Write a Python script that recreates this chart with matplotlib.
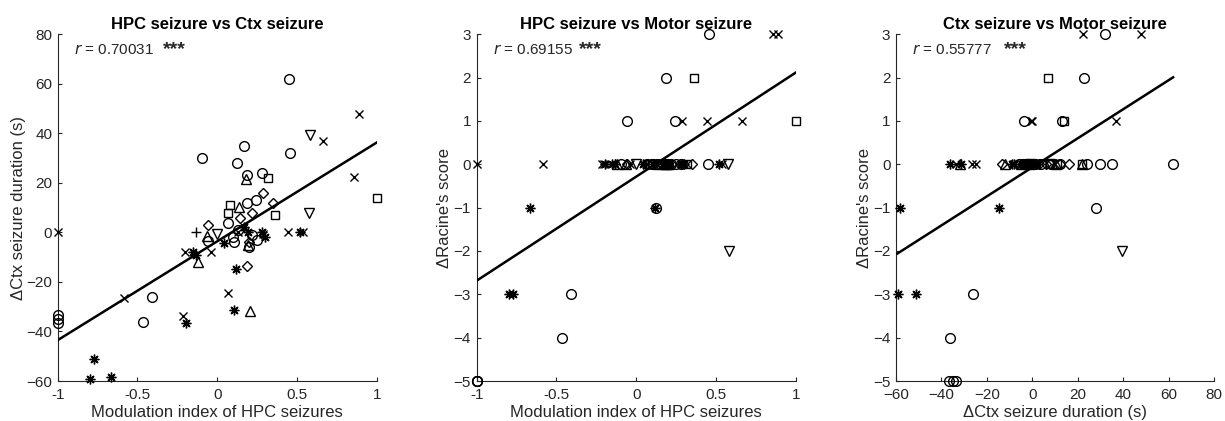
import numpy as np
import matplotlib.pyplot as plt

plt.rcParams['font.family'] = ['Liberation Sans', 'DejaVu Sans']

# per animal marker: modulation index (HPC), delta Ctx duration (s), delta Racine score
circ_mi = [0.452, 0.459, -0.095, 0.124, 0.17, 0.19, 0.283, 0.187, 0.243, -0.406, -0.467,
           -1.0, -1.0, -1.0, -0.06, 0.066, 0.108, 0.25, 0.2, 0.13, 0.10, 0.22]
circ_ctx = [62, 32, 30, 28, 35, 23, 24, 12, 13, -26, -36,
            -33.5, -35, -36.5, -3.5, 4, -4, -3, -6, 1, -2, -1]
circ_rac = [0, 3, 0, -1, 0, 2, 0, 0, 1, -3, -4,
            -5, -5, -5, 1, 0, 0, 0, 0, 0, 0, 0]

x_mi = [0.889, 0.856, 0.666, 0.446, 0.54, 0.07, -0.212, -0.586, -1.0, -0.04, -0.2, 0.285, 0.13]
x_ctx = [48, 22.5, 37, 0, 0, -24.6, -33.7, -26.5, 0, -8, -8, -0.5, 0]
x_rac = [3, 3, 1, 1, 0, 0, 0, 0, 0, 0, 0, 1, 0]

ast_mi = [-0.774, -0.8, -0.666, -0.195, 0.105, 0.12, 0.283, 0.519, 0.044, -0.13, 0.3, 0.17, 0.195, -0.15]
ast_ctx = [-51, -59.3, -58.4, -36.4, -31.3, -14.6, 0, 0, -4.3, -9, -2, 2, 0, -8]
ast_rac = [-3, -3, -1, 0, 0, -1, 0, 0, 0, 0, 0, 0, 0, 0]

sq_mi = [1.0, 0.317, 0.362, 0.08, 0.07]
sq_ctx = [14, 22, 7, 11, 8]
sq_rac = [1, 0, 2, 0, 0]

dia_mi = [0.187, 0.29, 0.352, 0.22, -0.057, 0.143, 0.2]
dia_ctx = [-13.5, 16, 12, 7.7, 3, 6, -4]
dia_rac = [0, 0, 0, 0, 0, 0, 0]

tri_mi = [0.179, 0.204, -0.118, 0.139, -0.066, 0.195]
tri_ctx = [21.7, -31.8, -12, 10.4, -1.5, -5]
tri_rac = [0, 0, 0, 0, 0, 0]

trd_mi = [0.582, 0.578, 0.0]
trd_ctx = [39.4, 7.7, -0.8]
trd_rac = [-2, 0, 0]

plus_mi = [-0.131]
plus_ctx = [0]
plus_rac = [0]

# regression lines (slope, intercept)
fit_mi_ctx = (39.9, -3.6)
fit_mi_rac = (2.4, -0.285)
fit_ctx_rac = (0.0335, -0.07)

r_text = ['0.70031', '0.69155', '0.55777']
titles = ['HPC seizure vs Ctx seizure', 'HPC seizure vs Motor seizure', 'Ctx seizure vs Motor seizure']

groups = [
    ('o', 7, circ_mi, circ_ctx, circ_rac),
    ('x', 5.5, x_mi, x_ctx, x_rac),
    ((8, 2, 0), 7, ast_mi, ast_ctx, ast_rac),
    ('s', 6, sq_mi, sq_ctx, sq_rac),
    ('D', 5.5, dia_mi, dia_ctx, dia_rac),
    ('^', 7, tri_mi, tri_ctx, tri_rac),
    ('v', 7, trd_mi, trd_ctx, trd_rac),
    ('+', 7, plus_mi, plus_ctx, plus_rac),
]

gray = '#262626'
fig = plt.figure(figsize=(12.25, 4.21), dpi=100)
positions = [[0.0471, 0.095, 0.2604, 0.8235],
             [0.3891, 0.095, 0.2604, 0.8235],
             [0.7314, 0.095, 0.2596, 0.8235]]
axes = [fig.add_axes(p) for p in positions]

# which columns go on x / y for each panel
pairs = [(2, 3), (2, 4), (3, 4)]
fits = [fit_mi_ctx, fit_mi_rac, fit_ctx_rac]
star_x = [0.33, 0.32, 0.34]

for i, ax in enumerate(axes):
    xi, yi = pairs[i]
    all_x = []
    for g in groups:
        mk, ms = g[0], g[1]
        xs, ys = g[xi], g[yi]
        all_x += list(xs)
        ax.plot(xs, ys, linestyle='none', marker=mk, ms=ms, mfc='none', mec='k',
                mew=1.0, color='k', clip_on=False, zorder=3)
    slope, icpt = fits[i]
    lx = np.array([min(all_x), max(all_x)])
    ax.plot(lx, slope * lx + icpt, color='k', lw=1.8, zorder=4)

    ax.set_title(titles[i], fontsize=12, fontweight='bold', pad=4)
    ax.text(0.05, 0.955, r'$\it{r}$' + ' = ' + r_text[i], transform=ax.transAxes,
            fontsize=11, color=gray, va='center')
    ax.text(star_x[i], 0.955, '***', transform=ax.transAxes, fontsize=14,
            color=gray, va='center', fontweight='bold')

    for s in ['top', 'right']:
        ax.spines[s].set_visible(False)
    for s in ['left', 'bottom']:
        ax.spines[s].set_color(gray)
        ax.spines[s].set_linewidth(0.8)
    ax.tick_params(direction='in', length=3, width=0.8, colors=gray, labelsize=11)
    ax.tick_params(axis='x', pad=5)
    ax.tick_params(axis='y', pad=4)

# panel 1
axes[0].set_xlim(-1, 1)
axes[0].set_ylim(-60, 80)
axes[0].set_xticks([-1, -0.5, 0, 0.5, 1])
axes[0].set_xticklabels(['-1', '-0.5', '0', '0.5', '1'])
axes[0].set_yticks(np.arange(-60, 81, 20))
axes[0].set_xlabel('Modulation index of HPC seizures', fontsize=12, color=gray, labelpad=2)
axes[0].set_ylabel('\u0394Ctx seizure duration (s)', fontsize=12, color=gray, labelpad=0)

# panel 2
axes[1].set_xlim(-1, 1)
axes[1].set_ylim(-5, 3)
axes[1].set_xticks([-1, -0.5, 0, 0.5, 1])
axes[1].set_xticklabels(['-1', '-0.5', '0', '0.5', '1'])
axes[1].set_yticks(np.arange(-5, 4, 1))
axes[1].set_xlabel('Modulation index of HPC seizures', fontsize=12, color=gray, labelpad=2)
axes[1].set_ylabel("\u0394Racine's score", fontsize=12, color=gray, labelpad=1)

# panel 3
axes[2].set_xlim(-60, 80)
axes[2].set_ylim(-5, 3)
axes[2].set_xticks(np.arange(-60, 81, 20))
axes[2].set_yticks(np.arange(-5, 4, 1))
axes[2].set_xlabel('\u0394Ctx seizure duration (s)', fontsize=12, color=gray, labelpad=2)
axes[2].set_ylabel("\u0394Racine's score", fontsize=12, color=gray, labelpad=1)

fig.savefig('out.png', dpi=100)
